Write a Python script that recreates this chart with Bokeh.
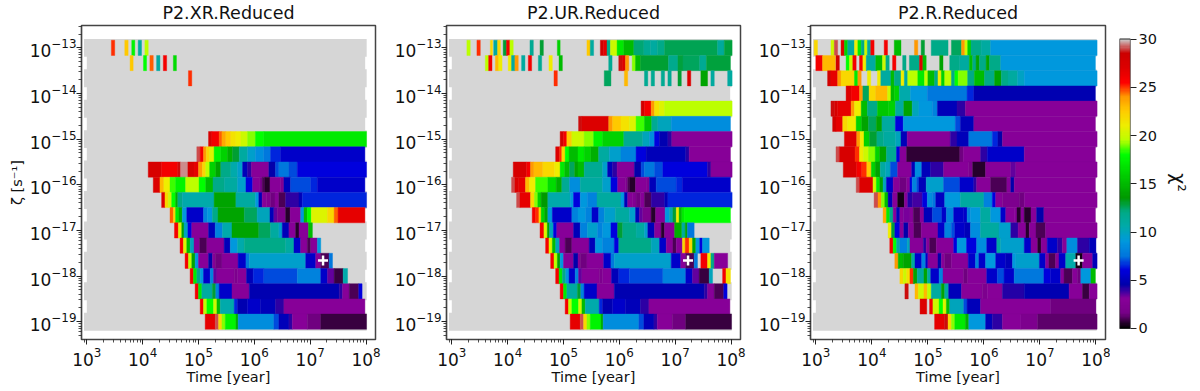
import numpy as np
from bokeh.embed import file_html
from bokeh.resources import INLINE
from bokeh.layouts import row
from bokeh.models import ColumnDataSource, LinearColorMapper, LogTicker, FixedTicker, Title
from bokeh.plotting import figure
from bokeh.transform import transform

TITLES = ["P2.XR.Reduced", "P2.UR.Reduced", "P2.R.Reduced"]
CBAR_TICKS = [0, 5, 10, 15, 20, 25, 30]
BEST_T = [1.7e7, 1.7e7, 4.9e7]
BEST_Z = [2.2e-18, 2.2e-18, 2.2e-18]

# Every row: (log10 time, chi2) — a run lasts until the next entry; None = no coloured run.
R_16 = [(4.94,26),(5.0,17),(5.06,11),(5.25,13),(5.31,8),(5.37,5.5),(5.60,3),(5.91,4.7),(7.52,4),(7.58,3),(7.70,1),(7.87,6),(7.93,None)]
R_17 = [(5.03,26),(5.09,19.5),(5.15,18),(5.27,20),(5.33,15),(5.39,10.5),(5.64,6.5),(5.70,4.7),(5.88,5.5),(6.11,5),(6.38,4),(6.53,3),(7.98,None)]
R_18 = [(5.12,26.5),(5.30,29),(5.36,22),(5.42,19),(5.48,17.5),(5.67,14.5),(5.71,8.5),(6.35,7),(6.44,5),(6.62,4),(6.68,3),(6.95,1.5),(7.19,0.8),(8.01,None)]

P1_ROWS = [
 [(3.44,25),(3.50,None),(3.68,22.5),(3.74,None),(3.805,17.5),(3.86,None),(3.92,11),(3.98,None),(4.04,19.5),(4.10,None)],
 [(3.775,22.5),(3.83,None),(4.015,18),(4.07,None),(4.13,24.5),(4.19,None),(4.25,11),(4.31,None),(4.37,26),(4.43,None),(4.55,16.5),(4.605,None)],
 [(4.82,25),(4.88,None)],
 [],
 [],
 [],
 [(5.18,27.5),(5.24,26),(5.37,24.5),(5.42,23.5),(5.49,22.5),(5.58,21.5),(5.67,21),(5.76,20),(5.88,19),(6.02,18),(6.17,17),(8.01,None)],
 [(4.97,29),(5.03,26),(5.09,24),(5.14,22),(5.20,20.5),(5.28,17.5),(5.40,16),(5.52,14.5),(5.61,13),(5.73,11),(5.88,9.5),(6.02,8.5),(6.17,7.5),(6.29,6.5),(6.47,5.5),(7.98,None)],
 [(4.10,27.5),(4.34,26),(4.63,28.5),(4.68,29.5),(4.81,27.5),(4.92,26.5),(5.0,24),(5.07,22),(5.13,19.5),(5.20,16),(5.31,14),(5.40,12),(5.58,10.5),(5.70,9.5),(5.79,5),(5.88,4),(5.95,3),(6.26,4.5),(6.38,7),(6.44,7.5),(6.62,7),(6.77,6),(8.01,None)],
 [(4.19,27),(4.31,23),(4.38,21),(4.49,18.5),(4.59,17.5),(4.77,19.5),(5.01,18),(5.13,15),(5.26,12),(5.46,11),(5.70,9.5),(5.85,6),(5.97,3),(6.10,2),(6.14,1),(6.19,0.5),(6.28,3),(6.47,2.5),(6.53,5),(6.65,7),(7.01,6.5),(7.13,5.5),(7.98,None)],
 [(4.34,27),(4.40,22),(4.46,20),(4.52,18),(4.59,14.5),(4.63,12),(4.71,10.5),(5.28,14),(5.67,11),(6.02,9),(6.08,5),(6.14,3),(6.22,2.5),(6.29,1.5),(6.37,3),(6.44,1),(6.56,4),(6.80,5),(6.86,6.5),(8.01,None)],
 [(4.49,24.5),(4.55,22),(4.59,17),(4.65,14.5),(4.71,9),(4.79,5.5),(5.09,8),(5.16,9),(5.25,12),(5.35,14),(5.82,12.5),(6.05,10),(6.28,5),(6.35,3.5),(6.41,2),(6.56,0.5),(6.64,3),(6.83,9),(6.89,15),(6.95,18),(7.02,20.5),(7.31,22),(7.43,24.5),(7.50,26.5),(7.98,None)],
 [(4.57,26),(4.64,20.5),(4.70,14),(4.74,10),(4.81,6),(4.88,3),(5.18,5),(5.30,8),(5.43,10.5),(5.60,14),(6.08,12.5),(6.29,11),(6.44,9.5),(6.50,5),(6.62,3),(6.74,0.5),(6.80,3),(6.97,15),(7.04,None)],
 [(4.67,26),(4.73,20.5),(4.79,15),(4.85,10),(4.92,3),(5.02,1),(5.15,3),(5.46,5),(5.57,9),(5.70,10.5),(5.82,12),(6.56,11),(6.71,5.5),(6.83,3),(6.95,1),(7.01,3),(7.13,9),(7.19,None)],
 [(4.76,26),(4.82,19.5),(4.88,14),(4.94,9),(5.0,3),(5.18,4.5),(5.25,3),(5.30,1.5),(5.42,3),(5.71,5.5),(5.85,7.5),(5.91,9.5),(6.92,5.5),(7.10,3),(7.19,1),(7.34,7.5),(7.40,None)],
 [(4.85,26),(4.91,17),(4.97,12),(5.03,9),(5.09,5.5),(5.21,8),(5.27,3.5),(5.33,3),(5.64,2),(5.70,3),(5.86,5),(5.98,6.5),(6.17,7),(6.77,8),(7.19,5.5),(7.31,3.5),(7.43,0.8),(7.59,10.5),(7.67,None)],
 R_16,
 R_17,
 R_18,
]

P2_ROWS = [
 [(3.27,19.5),(3.33,None),(3.45,25),(3.51,None),(3.69,22),(3.73,None),(3.75,11),(3.82,22),(3.87,None),(3.92,13),(3.98,26),(4.04,19.5),(4.10,None),(4.40,11.5),(4.46,None),(4.58,13),(4.64,None),(4.89,16),(4.94,None),(5.42,22.5),(5.48,11),(5.54,None),(5.66,28),(5.72,26.5),(5.78,12),(5.84,20),(5.96,17),(6.08,15),(6.26,12.3),(6.44,11.5),(6.56,11),(6.68,12),(6.81,12.6),(7.76,11.2),(7.88,12.8),(8.02,None)],
 [(3.60,19.5),(3.66,26),(3.72,None),(3.78,23),(3.84,21),(3.90,None),(4.01,21),(4.07,11),(4.13,24),(4.19,None),(4.25,11),(4.31,None),(4.37,26),(4.43,None),(4.55,11.5),(4.61,None),(4.74,21),(4.80,None),(4.92,15),(4.98,None),(5.81,11.5),(5.87,None),(5.99,28.5),(6.05,27),(6.11,24),(6.17,None),(6.23,19),(6.29,15),(6.38,13),(6.88,11.8),(7.05,12.8),(7.14,12.5),(7.44,11.5),(7.56,12.8),(7.99,None)],
 [(4.83,25),(4.89,None),(5.73,12.5),(5.85,None),(6.09,23),(6.15,None),(6.45,11.5),(6.51,None),(6.57,11.5),(6.63,None),(6.75,11.5),(6.81,None),(6.87,11.5),(6.93,None),(7.05,13),(7.11,None),(7.22,27),(7.28,None),(7.46,14),(7.58,None),(7.64,11),(7.70,None),(7.94,11),(8.02,None)],
 [],
 [(6.39,28),(6.45,26),(6.57,24),(6.63,21.5),(6.72,20.5),(6.81,19.5),(8.02,None)],
 [(5.27,28.5),(5.33,27),(5.81,24),(5.88,22.5),(6.03,21.5),(6.18,20.5),(6.30,18.5),(6.45,15.5),(6.58,11.5),(6.69,10),(6.93,8.5),(7.99,None)],
 [(4.94,28),(5.0,26),(5.06,22.5),(5.15,20),(5.37,19),(5.54,17.5),(5.70,16),(6.08,11.5),(6.42,10),(6.54,8.5),(6.63,6),(6.72,4.7),(6.87,4),(6.94,3),(8.02,None)],
 [(4.86,27),(4.93,25),(4.97,22),(5.03,18),(5.10,15),(5.26,17),(5.37,16),(5.49,14.5),(5.63,11),(5.82,9.5),(6.03,8),(6.30,6),(6.48,5),(7.19,4.2),(7.25,3),(7.99,None)],
 [(4.10,27.5),(4.34,26),(4.41,24),(4.47,23),(4.63,22),(4.84,21),(4.94,17),(5.02,15),(5.11,12.5),(5.20,14),(5.26,15),(5.37,11.5),(5.70,9.5),(5.79,5),(5.88,4),(5.96,3),(6.27,4.5),(6.39,7),(6.45,7.5),(6.63,7),(6.78,6),(7.58,4),(7.64,3),(8.02,None)],
 [(4.07,29),(4.13,27),(4.20,26.5),(4.32,23),(4.39,21),(4.50,18.5),(4.72,16.5),(4.87,14.5),(4.97,11.5),(5.11,8.5),(5.30,11),(5.70,9.5),(5.85,6),(5.97,3),(6.11,2),(6.15,1),(6.19,0.5),(6.29,3),(6.48,2.5),(6.54,5),(6.66,7),(7.02,6.5),(7.13,5.5),(7.99,None)],
 [(4.16,29),(4.22,26.5),(4.41,22),(4.48,19),(4.54,16),(4.60,13.5),(4.72,10.5),(5.12,9),(5.18,6),(5.30,9),(5.43,8),(5.60,11),(6.03,9),(6.09,5),(6.15,3),(6.23,2.5),(6.30,1.5),(6.38,3),(6.45,1),(6.57,4),(6.81,5),(6.87,6.5),(8.02,None)],
 [(4.44,26),(4.50,25),(4.56,22),(4.60,16),(4.66,14),(4.72,9),(4.80,5.5),(5.15,8),(5.26,9),(5.40,8),(5.51,5.5),(5.63,8),(5.73,9.5),(5.93,11),(6.18,9.5),(6.29,5),(6.36,3.5),(6.42,2),(6.57,0.5),(6.65,3),(6.82,9),(6.90,10.5),(6.96,13),(7.02,21),(7.07,15),(7.12,17),(7.16,18),(7.99,None)],
 [(4.58,26),(4.65,20.5),(4.71,14),(4.75,10),(4.82,6),(4.88,3),(5.18,5),(5.30,8),(5.43,9.5),(5.61,8),(5.70,9),(5.85,6),(5.97,13),(6.06,12),(6.30,11),(6.45,9.5),(6.51,5),(6.63,3),(6.75,0.5),(6.81,3),(6.99,14.5),(7.12,11),(7.18,14),(7.22,7.5),(7.34,None)],
 [(4.68,26),(4.74,20.5),(4.80,15),(4.86,10),(4.93,3),(5.03,1),(5.15,3),(5.46,5),(5.57,9),(5.70,8),(5.91,6),(5.99,12),(6.57,10),(6.72,5.5),(6.84,3),(6.96,1),(7.02,3),(7.13,22),(7.18,25),(7.25,22),(7.31,14),(7.37,9),(7.44,6),(7.49,9),(7.61,None)],
 [(4.77,26),(4.83,19.5),(4.89,14),(4.94,9),(5.0,3),(5.18,4.5),(5.26,3),(5.30,1.5),(5.42,3),(5.72,5.5),(5.85,7.5),(5.91,9.5),(6.93,5.5),(7.10,3),(7.19,1),(7.34,7.5),(7.40,None),(7.46,26),(7.58,21),(7.64,12),(7.70,3),(7.94,None)],
 [(4.86,26),(4.92,17),(4.98,12),(5.04,9),(5.10,5.5),(5.21,8),(5.27,3.5),(5.33,3),(5.64,2),(5.70,3),(5.86,5),(5.99,6.5),(6.18,7),(6.78,8),(7.19,5.5),(7.31,3.5),(7.43,0.8),(7.61,10),(7.67,None),(7.85,26),(7.91,21.5),(7.99,None)],
 R_16,
 R_17,
 R_18,
]

P3_ROWS = [
 [(2.97,22),(3.03,None),(3.27,20),(3.33,29),(3.39,None),(3.45,27),(3.51,16),(3.57,11),(3.69,21),(3.75,17),(3.81,12),(3.87,20),(3.92,11),(3.98,26),(4.04,None),(4.22,26),(4.28,None),(4.40,15),(4.52,None),(4.76,24),(4.82,None),(4.88,13),(4.94,None),(5.06,12),(5.36,None),(5.42,12.5),(5.60,24),(5.66,20),(5.71,16),(5.77,12),(5.95,11),(6.12,9),(8.02,None)],
 [(3.0,26),(3.12,23),(3.35,None),(3.36,28),(3.42,None),(3.54,18),(3.60,20),(3.66,26),(3.72,None),(3.78,26),(3.84,21),(3.90,11),(4.07,15),(4.19,20),(4.25,12),(4.31,None),(4.37,26),(4.43,None),(4.55,12),(4.61,None),(4.67,12),(4.85,27),(4.91,15),(4.97,None),(5.21,14),(5.27,None),(5.39,12),(5.57,11),(5.74,15),(5.80,12),(5.86,14),(5.92,12),(6.04,14),(6.10,12),(6.30,9),(7.99,None)],
 [(3.21,28),(3.27,26.5),(3.39,24),(3.45,22),(3.69,17),(3.75,24),(3.81,None),(3.92,21),(3.98,None),(4.10,21),(4.16,11),(4.34,15),(4.40,12),(4.52,21),(4.58,11),(4.64,19.5),(4.82,17),(4.94,19.5),(5.0,15),(5.12,12),(5.18,21),(5.24,16),(5.30,19.5),(5.42,12),(5.48,18),(5.54,19),(5.71,12),(5.83,15),(6.01,12),(6.19,14),(6.31,12),(6.43,11),(6.60,9.8),(6.72,9),(8.02,None)],
 [(3.54,27),(3.63,26),(3.78,24),(3.84,12.5),(3.95,22),(4.07,23),(4.28,20),(4.34,15),(4.40,16),(4.49,10.5),(4.69,9),(4.99,7.5),(5.70,6.5),(5.82,4.8),(7.99,None)],
 [(3.27,28.5),(3.33,27.5),(3.39,26.5),(3.63,24),(3.69,21),(3.81,15),(3.92,12),(4.10,15.5),(4.30,16),(4.42,11),(4.57,14),(4.72,10),(4.84,9),(5.08,8),(5.17,5),(5.52,4),(5.67,3),(8.02,None)],
 [(3.30,28),(3.36,26.5),(3.48,22),(3.57,21),(3.72,16),(3.82,14),(3.94,12.5),(4.08,14),(4.18,11),(4.42,6),(4.56,9),(5.49,7),(5.58,5),(5.82,3),(7.99,None)],
 [(3.51,27),(3.73,24),(3.79,21),(3.86,16),(3.96,13),(4.09,12),(4.21,11),(4.42,10),(4.52,5),(4.63,3),(5.40,4),(5.52,5),(5.73,7.5),(6.15,6.5),(6.25,4.5),(6.33,3),(8.02,None)],
 [(3.36,29),(3.42,27.5),(3.70,25),(3.78,21),(3.85,20),(3.94,19),(4.06,16),(4.14,14),(4.26,11.5),(4.44,6),(4.50,3),(4.62,0.7),(5.57,1.5),(5.63,3),(5.94,4),(6.06,5.5),(6.72,3),(7.99,None)],
 [(3.49,27.5),(3.73,26),(3.82,25),(3.91,22.5),(3.99,16),(4.06,14),(4.15,11),(4.24,10),(4.33,7),(4.46,3),(4.71,5),(4.77,8.5),(4.89,5),(5.05,4),(5.28,3),(5.73,2),(5.80,0.5),(6.03,3),(6.48,3.5),(6.57,3),(8.02,None)],
 [(3.72,29),(3.78,27),(4.02,20),(4.08,17),(4.14,14),(4.20,10),(4.26,5.5),(4.38,3),(4.50,1.5),(4.62,3),(4.68,6),(4.72,8),(4.80,7),(4.84,5),(4.97,9.5),(5.28,7),(5.57,5.5),(5.82,4),(5.87,3),(6.12,1),(6.41,3),(6.48,4.5),(6.54,3),(7.99,None)],
 [(4.04,29),(4.11,24),(4.17,19),(4.23,15),(4.29,5),(4.37,3),(4.46,0.3),(4.58,3),(4.64,4.2),(4.72,3.8),(4.90,6),(4.99,8.5),(5.08,7.5),(5.14,5.2),(5.30,9),(5.58,11),(6.00,8),(6.15,6),(6.21,3),(6.33,2),(6.63,1.5),(6.72,3),(8.02,None)],
 [(4.20,23.5),(4.26,17),(4.32,12),(4.38,3),(4.44,5),(4.50,3),(4.56,3.2),(4.68,3),(4.74,1),(4.86,3),(4.93,5),(5.08,7),(5.25,5.5),(5.33,8),(5.46,5.5),(5.64,5.5),(5.70,8),(5.76,9),(5.94,11),(6.12,9),(6.30,5.5),(6.39,3),(6.54,3),(6.59,0.5),(6.66,3),(6.72,0.5),(6.84,3),(6.94,4.5),(7.07,3),(7.99,None)],
 [(4.29,21),(4.35,13),(4.41,6),(4.50,3),(4.57,4.5),(4.65,3),(4.75,1),(4.88,3),(5.18,5.5),(5.30,8),(5.42,7),(5.48,5.5),(5.66,5),(5.76,8.5),(5.94,11),(6.27,9.5),(6.48,4),(6.61,3),(6.75,0.5),(6.81,3),(6.93,1),(7.10,3),(8.02,None)],
 [(4.32,26),(4.38,18),(4.44,11),(4.50,8),(4.63,10),(4.68,3),(4.92,4.2),(4.97,3),(5.03,1),(5.15,3),(5.46,6),(5.52,9),(5.69,6),(5.87,8.5),(6.05,5.5),(6.23,11),(6.30,9.5),(6.72,5.5),(6.84,3),(6.96,0.5),(7.02,3),(7.13,5.5),(7.31,4),(7.40,3),(7.48,8.5),(7.67,4),(7.88,5),(8.0,None)],
 [(4.41,24),(4.47,15),(4.56,14),(4.71,11),(4.77,5.5),(4.89,8),(4.96,5.5),(5.0,3),(5.18,4.5),(5.24,3),(5.30,1.5),(5.42,3),(5.72,5.5),(5.85,8),(5.91,5.5),(6.03,9),(6.21,5.5),(6.39,5),(6.51,9),(6.57,9.5),(6.99,5.5),(7.10,3),(7.16,1),(7.28,3),(7.34,5.5),(7.46,10.5),(7.64,0.3),(7.76,3),(7.94,5),(8.02,None)],
 [(4.50,22),(4.56,20),(4.62,21.5),(4.68,25),(4.74,14),(4.81,11),(4.93,14),(4.99,11),(5.05,5.5),(5.20,8),(5.27,3),(5.64,1.5),(5.71,3),(6.05,5.5),(6.24,7),(6.36,5.5),(6.54,7.5),(7.07,6),(7.19,5.5),(7.37,3),(7.43,1),(7.58,3),(7.67,1.5),(7.73,9),(7.91,15),(7.99,None)],
 [(4.59,28.5),(4.65,None),(4.77,23),(4.83,20),(4.93,23),(4.99,19.5),(5.06,11),(5.24,14),(5.30,11),(5.37,5),(5.60,3),(5.97,2),(6.06,3),(6.33,4.2),(6.72,4.8),(7.52,3),(7.76,0.8),(7.88,3),(8.02,None)],
 [(4.86,27),(4.98,None),(5.03,26),(5.09,20),(5.20,18),(5.27,20.5),(5.33,15),(5.39,10),(5.64,7),(5.70,5),(5.94,3),(7.19,1.5),(8.0,None)],
 [(5.12,26.5),(5.30,28.5),(5.36,22),(5.42,19),(5.48,17),(5.67,14.5),(5.73,9),(6.03,5),(6.15,4),(6.33,3),(6.66,2),(6.96,1.2),(8.02,None)],
]
PANELS = [P1_ROWS, P2_ROWS, P3_ROWS]

# nipy_spectral
_k = np.arange(21) / 20
_r = [0,.4667,.5333,0,0,0,0,0,0,0,0,0,0,.7333,.9333,1,1,1,.8667,.8,.8]
_g = [0,0,0,0,0,.4667,.6,.6667,.6667,.6,.7333,.8667,1,1,.9333,.8,.6,0,0,0,.8]
_b = [0,.5333,.6,.6667,.8667,.8667,.8667,.6667,.5333,0,0,0,0,0,0,0,0,0,0,0,.8]
_u = np.linspace(0, 1, 256)
PALETTE = ["#%02x%02x%02x" % (round(a*255), round(b*255), round(c*255))
           for a, b, c in zip(np.interp(_u,_k,_r), np.interp(_u,_k,_g), np.interp(_u,_k,_b))]
GRAY = "#d6d6d6"
FONT = "DejaVu Sans"
mapper = LinearColorMapper(palette=PALETTE, low=0, high=30)

LEFT = [81, 63, 62]
RIGHT = [8, 8, 5]
FRAME_W = [294, 294, 295]
H, TOP, BOTTOM = 390, 25, 51


def segments(rows):
    d = dict(left=[], right=[], top=[], bottom=[], chi=[])
    for i, r in enumerate(rows):
        zc = -13 - i / 3
        for (t0, v), (t1, _) in zip(r[:-1], r[1:]):
            if v is None:
                continue
            d["left"].append(10**t0); d["right"].append(10**t1)
            d["top"].append(10**(zc + 1/6)); d["bottom"].append(10**(zc - 1/6)); d["chi"].append(v)
    return d


def base(rows, wide):
    d = dict(left=[], right=[], top=[], bottom=[])
    for i in range(len(rows)):
        zc = -13 - i / 3
        if (i % 2 == 0) == wide:
            pad = 0.03 if wide else 0
            d["left"].append(10**(2.95 if wide else 3.0)); d["right"].append(10**(8.012 if wide else 7.985))
            d["top"].append(10**(zc + 1/6 + pad)); d["bottom"].append(10**(zc - 1/6 - pad))
    return d


def style_axis(ax):
    ax.axis_line_color = "#444444"; ax.axis_line_width = 1.2
    ax.major_tick_line_color = "#222222"; ax.minor_tick_line_color = "#222222"
    ax.major_tick_line_width = 1; ax.minor_tick_line_width = 0.8
    ax.major_tick_out = 5; ax.major_tick_in = 0
    ax.minor_tick_out = 3; ax.minor_tick_in = 0
    ax.major_label_standoff = 0
    ax.major_label_text_font = FONT; ax.major_label_text_font_size = "17px"
    ax.major_label_text_color = "#111111"
    ax.axis_label_text_font = FONT; ax.axis_label_text_font_style = "normal"
    ax.axis_label_text_font_size = "14.5px"; ax.axis_label_text_color = "#111111"


figs = []
for k, rows in enumerate(PANELS):
    p = figure(width=LEFT[k] + FRAME_W[k] + RIGHT[k], height=H, x_axis_type="log", y_axis_type="log",
               x_range=(10**2.905, 10**8.17), y_range=(10**-19.39, 10**-12.51),
               output_backend="svg", toolbar_location=None,
               min_border_left=LEFT[k], min_border_right=RIGHT[k], min_border_top=TOP, min_border_bottom=BOTTOM)
    p.title = Title(text=TITLES[k], align="center", vertical_align="top", text_font=FONT, text_font_size="17.5px",
                    text_font_style="normal", text_color="#111111", offset=0, standoff=2)
    p.grid.visible = False
    p.outline_line_color = "#444444"; p.outline_line_width = 1.5
    p.xaxis.ticker = LogTicker(desired_num_ticks=6, num_minor_ticks=10, mantissas=[1])
    p.yaxis.ticker = LogTicker(desired_num_ticks=7, num_minor_ticks=10, mantissas=[1])
    style_axis(p.xaxis[0]); style_axis(p.yaxis[0])
    p.xaxis.major_label_standoff = 2
    p.xaxis.axis_label = "Time [year]"
    p.xaxis.axis_label_standoff = 0
    if k == 0:
        p.yaxis.axis_label = "ζ [s⁻¹]"
        p.yaxis.axis_label_standoff = 2
    for wide in (False, True):
        p.quad(left="left", right="right", top="top", bottom="bottom", source=ColumnDataSource(base(rows, wide)),
               fill_color=GRAY, line_color=None)
    p.quad(left="left", right="right", top="top", bottom="bottom", source=ColumnDataSource(segments(rows)),
           fill_color=transform("chi", mapper), line_color=transform("chi", mapper), line_width=0.4)
    p.scatter([BEST_T[k]], [BEST_Z[k]], marker="cross", size=10, line_color="white", line_width=2.5)
    figs.append(p)

# colour bar: same frame as the panels (row() aligns frames), so the y range extends past 0..30
cb = figure(width=82, height=H, x_range=(0, 1), y_range=(-1.14, 31.4), y_axis_location="right",
            output_backend="svg", toolbar_location=None,
            min_border_left=9, min_border_right=52, min_border_top=TOP, min_border_bottom=BOTTOM)
cb.grid.visible = False
cb.xaxis.visible = False
cb.outline_line_color = None
cb.image(image=[np.linspace(0, 30, 256).reshape(-1, 1)], x=0, y=0, dw=1, dh=30, color_mapper=mapper)
cb.quad(left=[0], right=[1], bottom=[0], top=[30], fill_color=None, line_color="#222222", line_width=1.2)
cb.yaxis.ticker = FixedTicker(ticks=CBAR_TICKS)
style_axis(cb.yaxis[0])
cb.yaxis.axis_line_color = None
cb.yaxis.minor_tick_line_color = None
cb.yaxis.major_tick_out = 6
cb.yaxis.major_label_text_font_size = "14.5px"
cb.yaxis.major_label_standoff = 2
cb.yaxis.axis_label = "χ²"
cb.yaxis.axis_label_text_font_size = "19px"
cb.yaxis.axis_label_standoff = 8
figs.append(cb)

layout = row(*figs, spacing=0)
open("out.html", "w").write(file_html(layout, INLINE))
